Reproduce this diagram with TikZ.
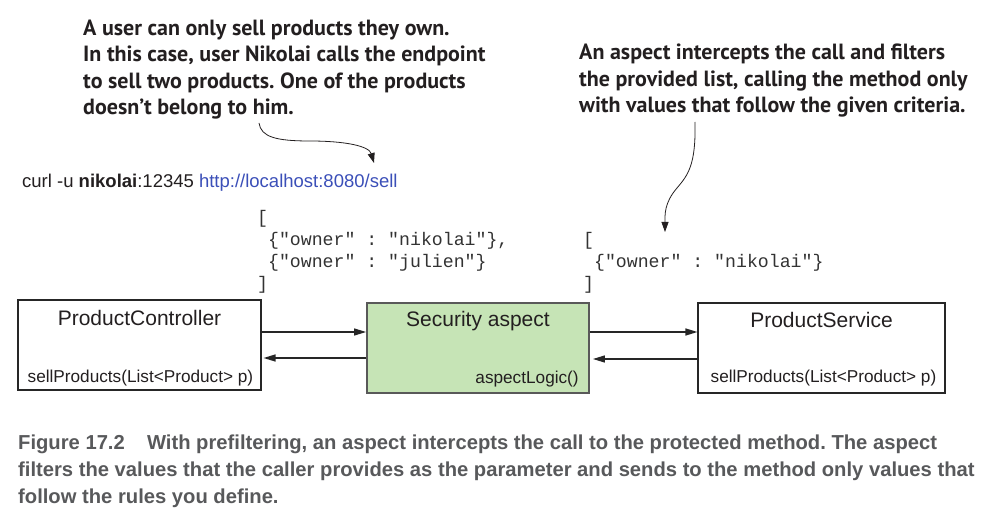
\documentclass[tikz,border=0pt]{standalone}
\usepackage{fontspec}
\setmainfont{Liberation Sans}
\setmonofont{Liberation Mono}
\newfontfamily\notefont{PT Sans}
\usetikzlibrary{arrows.meta}
\usetikzlibrary{positioning}
\definecolor{ink}{HTML}{231F20}
\definecolor{aspectgreen}{HTML}{C6E4B6}
\definecolor{urlblue}{HTML}{3B4FB8}
\definecolor{capgray}{HTML}{58595B}
\frenchspacing

\begin{document}
\begin{tikzpicture}[
	x=1pt,
	y=-1pt,
	box/.style={
		draw=black!85,
		line width=1.1pt,
		fill=white,
		inner sep=0pt,
		minimum height=90pt,
	},
	aspect/.style={
		box,
		draw=black!65,
		line width=1.8pt,
		fill=aspectgreen,
	},
	title/.style={
		inner sep=0pt,
		anchor=base,
		text=ink,
		font=\fontsize{21}{25}\selectfont,
	},
	method/.style={
		inner sep=0pt,
		text=ink,
		font=\fontsize{17.2}{20}\selectfont,
	},
	note/.style={
		anchor=north west,
		align=left,
		inner sep=0pt,
		text=ink,
		font=\notefont\bfseries\fontsize{22}{26.2}\selectfont,
	},
	json/.style={
		anchor=north west,
		align=left,
		inner sep=0pt,
		text=black!80,
		font=\ttfamily\fontsize{18.2}{22}\selectfont,
	},
	call/.style={
		draw=black!85,
		line width=1.3pt,
		-{Triangle[length=12pt,width=7pt]},
	},
	pointer/.style={
		draw=ink,
		line width=0.8pt,
		-{Triangle[length=10pt,width=7pt]},
	},
]
\useasboundingbox (0,0) rectangle (999,529);

\node[note] (note user) at (83,20) {A user can only sell products they own.\\In this case, user Nikolai calls the endpoint\\to sell two products. One of the products\\doesn’t belong to him.};
\node[note] (note aspect) at (579,44) {An aspect intercepts the call and filters\\the provided list, calling the method only\\with values that follow the given criteria.};

\node[anchor=base west, inner sep=0pt, text=ink, font=\fontsize{18.5}{22}\selectfont] (curl) at (22,188) {curl -u \textbf{nikolai}:12345 \textcolor{urlblue}{http://localhost:8080/sell}};

\node[json] (json all) at (257,210) {[\\\mbox{ }\{"owner" : "nikolai"\},\\\mbox{ }\{"owner" : "julien"\}\\]};
\node[json] (json own) at (583,232) {[\\\mbox{ }\{"owner" : "nikolai"\}\\]};

\coordinate (user tail) at (259,123);
\coordinate (curl tip) at (374,163);
\coordinate (aspect tail) at (695,122);
\coordinate (json tip) at (665,232);

\draw[pointer] (user tail) .. controls (261,137) and (276,141) .. (310,141) .. controls (345,141) and (369,146) .. (curl tip);
\draw[pointer] (aspect tail) .. controls (696,165) and (688,175) .. (677,188) .. controls (664,203) and (665,215) .. (json tip);

\node[box, minimum width=243pt] (pc) at (139.5,345) {};
\node[aspect, minimum width=222pt] (sa) at (478,348) {};
\node[box, minimum width=247pt] (ps) at (821.5,348) {};

\node[title] (pc title) at ([yshift=-26pt]pc.north) {ProductController};
\node[method, anchor=base west] (pc method) at ([xshift=10pt,yshift=8pt]pc.south west) {sellProducts(List<Product> p)};
\node[title] (sa title) at ([yshift=-24pt]sa.north) {Security aspect};
\node[method, anchor=base east] (sa method) at ([xshift=-11pt,yshift=10pt]sa.south east) {aspectLogic()};
\node[title] (ps title) at ([yshift=-25pt]ps.north) {ProductService};
\node[method, anchor=base west] (ps method) at ([xshift=13pt,yshift=11pt]ps.south west) {sellProducts(List<Product> p)};

\draw[call] ([yshift=13pt]pc.east) -- ([yshift=13pt]pc.east -| sa.west);
\draw[call] ([yshift=-13pt]pc.east -| sa.west) -- ([yshift=-13pt,xshift=2pt]pc.east);
\draw[call] ([yshift=16pt]sa.east) -- ([yshift=16pt]sa.east -| ps.west);
\draw[call] ([yshift=-11pt]sa.east -| ps.west) -- ([yshift=-11pt,xshift=3pt]sa.east);

\node[anchor=north west, align=left, inner sep=0pt, text=capgray, font=\bfseries\fontsize{20.2}{27}\selectfont] (caption) at (18,435) {Figure 17.2\hspace{1.1em}With prefiltering, an aspect intercepts the call to the protected method. The aspect\\filters the values that the caller provides as the parameter and sends to the method only values that\\follow the rules you define.};
\end{tikzpicture}
\end{document}
